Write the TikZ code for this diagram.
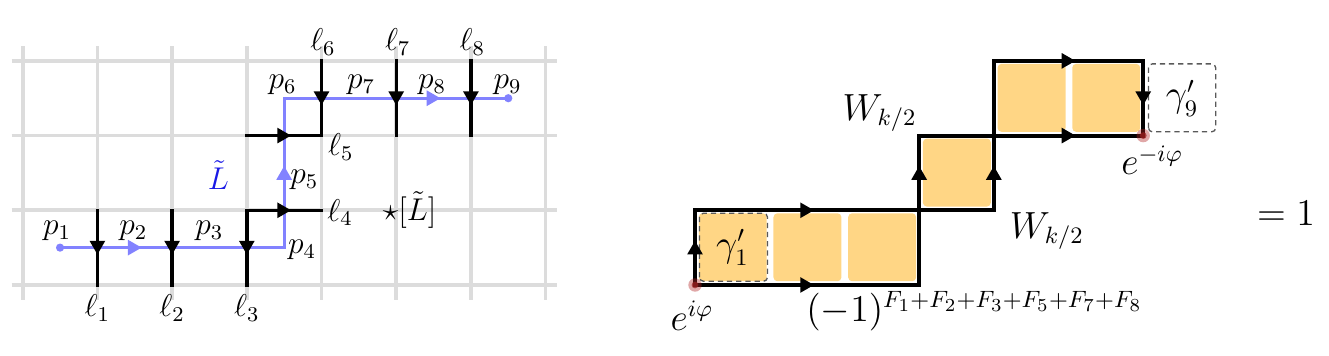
\documentclass[tikz,border=0pt]{standalone}
\usepackage{amsmath,amssymb}
\usetikzlibrary{decorations.markings}
\definecolor{lblue}{HTML}{8282FF}
\definecolor{vblue}{HTML}{1A1AE6}
\definecolor{gridg}{HTML}{DCDCDC}
\definecolor{cellor}{HTML}{FFD685}
\definecolor{dotred}{HTML}{B22222}
\tikzset{
  gridln/.style={draw=gridg,line width=1.4pt},
  wline/.style={draw=black,line width=1.3pt,line cap=rect},
  lpath/.style={draw=lblue,line width=1.2pt},
  tri/.style={postaction={decorate},decoration={markings,mark=at position 0.5 with {\fill[#1] (2.6pt,0) -- (-2.6pt,3pt) -- (-2.6pt,-3pt) -- cycle;}}},
  tri/.default=black,
  lbl/.style={font=\fontsize{12}{14}\selectfont,inner sep=1pt},
  rlbl/.style={font=\fontsize{13.5}{16}\selectfont,inner sep=1pt},
  cell/.style={fill=cellor,rounded corners=1.5pt},
  dbox/.style={draw=black!65,dash pattern=on 2pt off 1.5pt,line width=0.5pt,rounded corners=1.5pt},
  edot/.style={fill=dotred,opacity=0.4},
}
\begin{document}
\begin{tikzpicture}[x=1cm,y=1cm]
  \useasboundingbox (-0.304,-0.95) rectangle (17.487,3.815);
  \foreach \i in {0,...,7} \draw[gridln] (\i,-0.2) -- (\i,3.2);
  \foreach \j in {0,...,3} \draw[gridln] (-0.15,\j) -- (7.15,\j);
  \draw[lpath] (0.5,0.5) -- (3.5,0.5) -- (3.5,2.5) -- (6.5,2.5);
  \foreach \a/\b in {1/0.5,5/2.5} \path[tri=lblue] (\a,\b) -- (\a+1,\b);
  \path[tri=lblue] (3.5,1) -- (3.5,2);
  \fill[lblue] (0.5,0.5) circle (0.055) (6.5,2.5) circle (0.055);
  \foreach \x [count=\k] in {1,2,3} {
    \draw[wline,tri] (\x,1) -- (\x,0);
    \node[lbl] (l\k) at (\x,-0.31) {$\ell_{\k}$};
  }
  \foreach \x [count=\k from 6] in {4,5,6} {
    \draw[wline,tri] (\x,3) -- (\x,2);
    \node[lbl] (l\k) at (\x+0.02,3.25) {$\ell_{\k}$};
  }
  \draw[wline,tri] (3,1) -- (4,1);
  \draw[wline,tri] (3,2) -- (4,2);
  \node[lbl] (l4) at (4.25,0.97) {$\ell_4$};
  \node[lbl] (l5) at (4.26,1.85) {$\ell_5$};
  \foreach \x/\y [count=\k] in {0.46/0.72,1.48/0.72,2.5/0.72,3.74/0.47,3.77/1.41,3.48/2.68,4.53/2.68,5.48/2.68,6.49/2.68}
    \node[lbl] (p\k) at (\x,\y) {$p_{\k}$};
  \node[lbl,text=vblue] (Lt) at (2.62,1.47) {$\tilde{L}$};
  \node[lbl] (star) at (5.18,1.0) {$\star[\tilde{L}]$};

  \foreach \x/\y in {9/0,10/0,11/0,12/1,13/2,14/2} \fill[cell] (\x+0.05,\y+0.05) rectangle (\x+0.96,\y+0.96);
  \draw[dbox] (9.06,0.05) rectangle (9.97,0.96);
  \draw[dbox] (15.07,2.05) rectangle (15.97,2.96);
  \draw[line width=1.5pt,line join=miter] (9,0) -- (12,0) -- (12,1) -- (13,1) -- (13,2) -- (15,2) -- (15,3) -- (13,3) -- (13,2) -- (12,2) -- (12,1) -- (9,1) -- cycle;
  \foreach \a/\b/\c/\d in {9/0/9/1,9/0/12/0,9/1/12/1,12/1/12/2,13/1/13/2,13/2/15/2,13/3/15/3,15/3/15/2}
    \path[tri] (\a,\b) -- (\c,\d);
  \foreach \p in {(9,0),(15,2)} {
    \fill[edot] \p circle (0.09);
    \fill[dotred!85!black,opacity=0.75] \p circle (0.045);
  }
  \node[rlbl] (g1) at (9.5,0.5) {$\gamma'_1$};
  \node[rlbl] (g9) at (15.52,2.5) {$\gamma'_9$};
  \node[rlbl] (wa) at (11.47,2.3) {$W_{k/2}$};
  \node[rlbl] (wb) at (13.71,0.72) {$W_{k/2}$};
  \node[rlbl] (eph) at (8.96,-0.41) {$e^{i\varphi}$};
  \node[rlbl] (emph) at (15.12,1.67) {$e^{-i\varphi}$};
  \node[rlbl,anchor=west] (sgn) at (10.45,-0.355) {$(-1)^{F_1+F_2+F_3+F_5+F_7+F_8}$};
  \node[rlbl] (eq) at (16.91,0.96) {$=1$};
\end{tikzpicture}
\end{document}
